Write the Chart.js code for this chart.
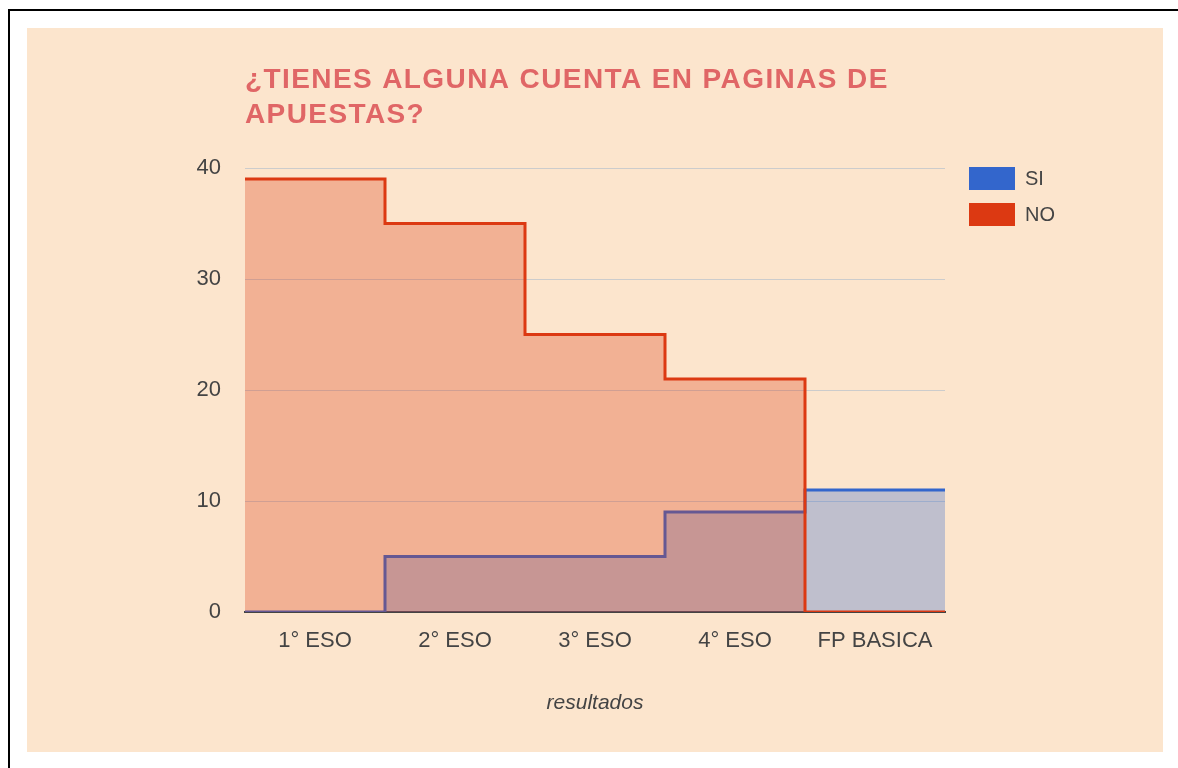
<!DOCTYPE html>
<html>
<head>
<meta charset="utf-8">
<title>¿Tienes alguna cuenta en paginas de apuestas?</title>
<script src="https://cdn.jsdelivr.net/npm/chart.js@4.4.1/dist/chart.umd.min.js"></script>
<style>
  html, body { margin: 0; padding: 0; background: #fff; }
  canvas { display: block; }
</style>
</head>
<body>
<canvas id="chart" width="1178" height="768"></canvas>
<script>
const categories = ['1° ESO', '2° ESO', '3° ESO', '4° ESO', 'FP BASICA'];
const siValues = [0, 5, 5, 9, 11];
const noValues = [39, 35, 25, 21, 0];
const yTicks = [0, 10, 20, 30, 40];
const titleLines = ['¿TIENES ALGUNA CUENTA EN PAGINAS DE', 'APUESTAS?'];
const axisTitle = 'resultados';

const FONT = 'Arial, "Liberation Sans", sans-serif';
const ctx = document.getElementById('chart').getContext('2d');


// one point per band edge so every category fills its whole band
function toSteps(values) {
  const pts = values.map((v, i) => ({ x: i, y: v }));
  pts.push({ x: values.length, y: values[values.length - 1] });
  return pts;
}


const decor = {
  id: 'decor',
  beforeDraw(chart) {
    const c = chart.ctx;
    c.save();
    c.fillStyle = '#fff';
    c.fillRect(0, 0, chart.width, chart.height);
    c.fillStyle = '#000';
    c.fillRect(8, 9, chart.width - 8, 2);
    c.fillRect(8, 9, 2, chart.height - 9);
    c.fillStyle = '#fce5cd';
    c.fillRect(27, 28, 1136, 724);
    c.restore();
  },
  afterDraw(chart) {
    const c = chart.ctx;
    c.save();
    // title
    c.fillStyle = '#e06666';
    c.font = 'bold 28px ' + FONT;
    c.letterSpacing = '1.4px';
    c.textBaseline = 'alphabetic';
    c.textAlign = 'left';
    titleLines.forEach((line, i) => c.fillText(line, 245, 88 + i * 35));
    c.letterSpacing = '0px';

    // legend, SI first
    const items = [chart.data.datasets[0], chart.data.datasets[1]];
    c.font = '20px ' + FONT;
    c.textBaseline = 'middle';
    items.forEach((ds, i) => {
      const y = 167 + i * 36;
      c.fillStyle = ds.borderColor;
      c.fillRect(969, y, 46, 23);
      c.fillStyle = '#444';
      c.fillText(ds.label, 1025, y + 12);
    });
    c.restore();
  }
};


const chart = new Chart(ctx, {
  type: 'line',
  data: {
    datasets: [{
      label: 'SI',
      data: toSteps(siValues),
      borderColor: '#3366cc',
      backgroundColor: 'rgba(51, 102, 204, 0.3)',
      borderWidth: 3,
      stepped: 'before',
      fill: 'origin',
      pointRadius: 0,
      order: 1
    }, {
      label: 'NO',
      data: toSteps(noValues),
      borderColor: '#dc3912',
      backgroundColor: 'rgba(220, 57, 18, 0.3)',
      borderWidth: 3,
      stepped: 'before',
      fill: 'origin',
      pointRadius: 0,
      order: 0
    }]
  },
  options: {
    responsive: false,
    animation: false,
    layout: {
      padding: { top: 168, right: 233, left: 0, bottom: 0 }
    },
    scales: {
      x: {
        type: 'linear',
        min: 0,
        max: categories.length,
        z: 1,
        afterBuildTicks: s => { s.ticks = categories.map((c, i) => ({ value: i + 0.5 })); },
        afterFit: s => { s.height = 156; },
        grid: { display: false },
        border: { display: true, color: '#444', width: 2 },
        ticks: {
          autoSkip: false,
          maxRotation: 0,
          padding: 8,
          color: '#444',
          font: { family: FONT, size: 22 },
          callback: v => categories[Math.floor(v)]
        },
        title: {
          display: true,
          text: axisTitle,
          color: '#444',
          font: { family: FONT, size: 21, style: 'italic' },
          padding: { top: 0, bottom: 52 }
        }
      },
      y: {
        min: 0,
        max: 40,
        afterBuildTicks: s => { s.ticks = yTicks.map(v => ({ value: v })); },
        afterFit: s => { s.width = 245; },
        grid: { color: '#cccccc', lineWidth: 1, drawTicks: false },
        border: { display: false },
        ticks: {
          padding: 24,
          color: '#444',
          font: { family: FONT, size: 22 }
        }
      }
    },
    plugins: {
      legend: { display: false },
      title: { display: false },
      tooltip: { enabled: false }
    }
  },
  plugins: [decor]
});
</script>
</body>
</html>
